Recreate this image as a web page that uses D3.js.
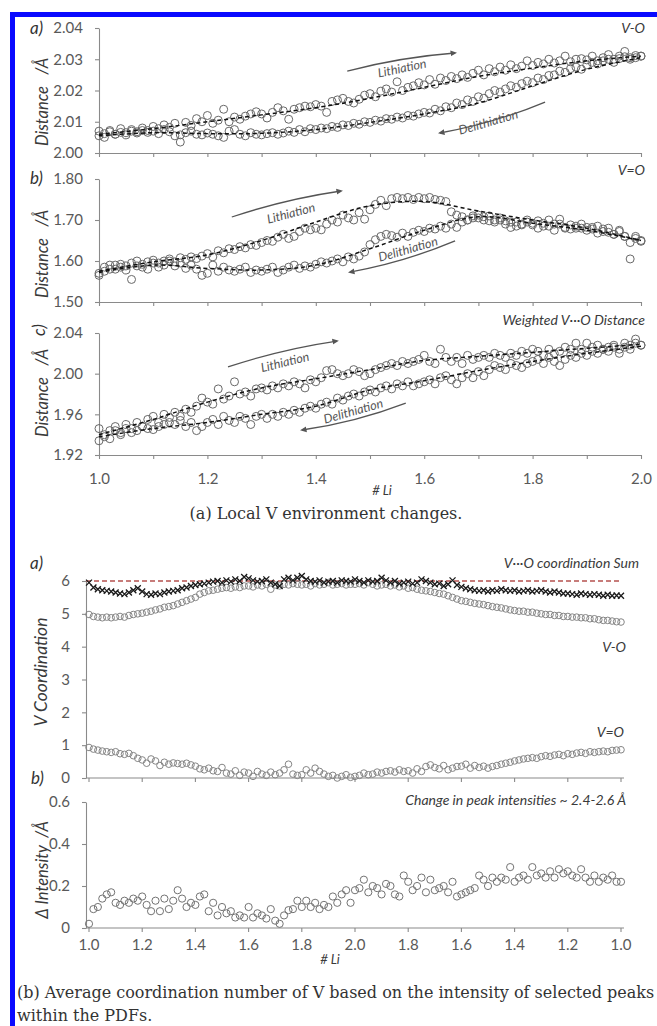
<!DOCTYPE html>
<html>
<head>
<meta charset="utf-8">
<script src="https://cdn.jsdelivr.net/npm/d3@7"></script>
<style>
  body { margin: 0; background: #fff; }
  svg { display: block; }
</style>
</head>
<body>
<svg id="fig" width="657" height="1026"></svg>
<script>
// ---------- Figure (a): V–O distances vs. # Li, x = 1.00 … 2.00 in 0.01 steps ----------
const voLi = [
  2.0070, 2.0050, 2.0072, 2.0060, 2.0078, 2.0065, 2.0075, 2.0068, 2.0080, 2.0072,
  2.0085, 2.0078, 2.0090, 2.0082, 2.0095, 2.0058, 2.0098, 2.0088, 2.0110, 2.0100,
  2.0120, 2.0095, 2.0105, 2.0140, 2.0100, 2.0115, 2.0108, 2.0118, 2.0125, 2.0132,
  2.0125, 2.0112, 2.0130, 2.0145, 2.0135, 2.0108, 2.0140, 2.0145, 2.0150, 2.0148,
  2.0155, 2.0150, 2.0130, 2.0165, 2.0170, 2.0175, 2.0165, 2.0160, 2.0172, 2.0185,
  2.0190, 2.0180, 2.0198, 2.0205, 2.0195, 2.0228, 2.0200, 2.0210, 2.0215, 2.0225,
  2.0218, 2.0235, 2.0220, 2.0240, 2.0232, 2.0245, 2.0238, 2.0250, 2.0242, 2.0255,
  2.0265, 2.0250, 2.0270, 2.0260, 2.0275, 2.0265, 2.0282, 2.0270, 2.0278, 2.0295,
  2.0280, 2.0290, 2.0285, 2.0300, 2.0288, 2.0295, 2.0310, 2.0292, 2.0300, 2.0302,
  2.0298, 2.0310, 2.0295, 2.0305, 2.0315, 2.0300, 2.0310, 2.0325, 2.0305, 2.0312,
  2.0310
];
const voDe = [
  2.0055, 2.0062, 2.0068, 2.0060, 2.0066, 2.0058, 2.0070, 2.0064, 2.0072, 2.0066,
  2.0070, 2.0062, 2.0075, 2.0068, 2.0055, 2.0035, 2.0065, 2.0070, 2.0060, 2.0058,
  2.0064, 2.0060, 2.0055, 2.0050, 2.0070, 2.0075, 2.0060, 2.0055, 2.0065, 2.0060,
  2.0058, 2.0062, 2.0065, 2.0060, 2.0064, 2.0070, 2.0066, 2.0075, 2.0068, 2.0078,
  2.0075, 2.0080, 2.0078, 2.0085, 2.0082, 2.0090, 2.0088, 2.0095, 2.0092, 2.0100,
  2.0098, 2.0105, 2.0102, 2.0110, 2.0108, 2.0115, 2.0112, 2.0120, 2.0118, 2.0125,
  2.0130, 2.0128, 2.0140, 2.0135, 2.0148, 2.0145, 2.0160, 2.0155, 2.0170, 2.0165,
  2.0180, 2.0175, 2.0190, 2.0200, 2.0195, 2.0205, 2.0215, 2.0210, 2.0222, 2.0230,
  2.0225, 2.0240, 2.0235, 2.0248, 2.0250, 2.0262, 2.0258, 2.0270, 2.0275, 2.0268,
  2.0282, 2.0290, 2.0285, 2.0295, 2.0300, 2.0290, 2.0302, 2.0308, 2.0300, 2.0305,
  2.0310
];
// trend lines, sampled at # Li = 1.0, 1.1, … 2.0
const voTrendLi = [2.0060, 2.0078, 2.0100, 2.0122, 2.0145, 2.0175, 2.0210, 2.0245, 2.0272, 2.0295, 2.0310];
const voTrendDe = [2.0055, 2.0065, 2.0062, 2.0063, 2.0075, 2.0098, 2.0125, 2.0160, 2.0215, 2.0268, 2.0305];

const vdoLi = [
  1.565, 1.585, 1.590, 1.580, 1.592, 1.588, 1.595, 1.600, 1.585, 1.598,
  1.602, 1.595, 1.600, 1.605, 1.598, 1.608, 1.604, 1.610, 1.606, 1.612,
  1.618, 1.610, 1.625, 1.620, 1.630, 1.628, 1.635, 1.632, 1.640, 1.638,
  1.645, 1.650, 1.648, 1.658, 1.665, 1.655, 1.660, 1.672, 1.680, 1.676,
  1.680, 1.676, 1.690, 1.700, 1.695, 1.712, 1.705, 1.700, 1.718, 1.702,
  1.725, 1.738, 1.748, 1.735, 1.752, 1.755, 1.752, 1.755, 1.750, 1.755,
  1.752, 1.755, 1.750, 1.748, 1.745, 1.720, 1.712, 1.708, 1.700, 1.710,
  1.705, 1.700, 1.698, 1.695, 1.700, 1.690, 1.682, 1.695, 1.688, 1.700,
  1.692, 1.698, 1.685, 1.700, 1.690, 1.702, 1.680, 1.688, 1.680, 1.690,
  1.682, 1.678, 1.685, 1.672, 1.680, 1.665, 1.675, 1.660, 1.645, 1.655,
  1.650
];
const vdoDe = [
  1.570, 1.575, 1.580, 1.590, 1.585, 1.578, 1.555, 1.588, 1.592, 1.580,
  1.595, 1.585, 1.590, 1.600, 1.588, 1.595, 1.582, 1.590, 1.580, 1.565,
  1.570, 1.590, 1.575, 1.585, 1.578, 1.575, 1.580, 1.585, 1.572, 1.578,
  1.575, 1.580, 1.585, 1.572, 1.578, 1.585, 1.590, 1.582, 1.588, 1.585,
  1.592, 1.598, 1.595, 1.600, 1.605, 1.598, 1.610, 1.605, 1.612, 1.622,
  1.640, 1.652, 1.660, 1.665, 1.662, 1.658, 1.668, 1.660, 1.670, 1.675,
  1.672, 1.680, 1.678, 1.685, 1.680, 1.690, 1.682, 1.695, 1.700, 1.705,
  1.712, 1.708, 1.710, 1.700, 1.705, 1.698, 1.695, 1.685, 1.690, 1.695,
  1.688, 1.680, 1.692, 1.685, 1.675, 1.690, 1.682, 1.678, 1.685, 1.680,
  1.675, 1.682, 1.668, 1.678, 1.670, 1.665, 1.672, 1.660, 1.605, 1.660,
  1.648
];
const vdoTrendLi = [1.575, 1.598, 1.615, 1.650, 1.695, 1.735, 1.745, 1.722, 1.700, 1.680, 1.650];
const vdoTrendDe = [1.572, 1.590, 1.582, 1.578, 1.590, 1.630, 1.675, 1.708, 1.692, 1.675, 1.650];

const wLi = [
  1.946, 1.938, 1.944, 1.948, 1.942, 1.950, 1.946, 1.952, 1.948, 1.955,
  1.958, 1.952, 1.960, 1.957, 1.962, 1.958, 1.965, 1.962, 1.968, 1.976,
  1.972, 1.970, 1.985, 1.975, 1.978, 1.992, 1.980, 1.982, 1.978, 1.985,
  1.986, 1.984, 1.988, 1.986, 1.990, 1.988, 1.992, 1.990, 1.986, 1.994,
  1.992, 1.996, 2.003, 2.004, 2.000, 1.998, 2.000, 2.004, 2.002, 1.998,
  2.000, 2.004, 2.006, 2.008, 2.010, 2.008, 2.012, 2.010, 2.012, 2.014,
  2.018, 2.012, 2.010, 2.024, 2.016, 2.012, 2.016, 2.010, 2.018, 2.014,
  2.016, 2.018, 2.016, 2.020, 2.018, 2.016, 2.020, 2.018, 2.022, 2.020,
  2.024, 2.022, 2.018, 2.024, 2.020, 2.022, 2.026, 2.024, 2.030, 2.024,
  2.030, 2.026, 2.028, 2.024, 2.026, 2.028, 2.024, 2.030, 2.028, 2.034,
  2.028
];
const wDe = [
  1.934, 1.940, 1.936, 1.944, 1.940, 1.946, 1.942, 1.944, 1.948, 1.946,
  1.945, 1.948, 1.950, 1.952, 1.950, 1.954, 1.948, 1.952, 1.944, 1.948,
  1.952, 1.955, 1.950, 1.958, 1.954, 1.952, 1.958, 1.956, 1.950, 1.958,
  1.960, 1.956, 1.960, 1.958, 1.962, 1.960, 1.964, 1.962, 1.966, 1.968,
  1.966, 1.970, 1.972, 1.970, 1.976, 1.974, 1.978, 1.980, 1.978, 1.982,
  1.984, 1.982, 1.986, 1.988, 1.985, 1.990, 1.988, 1.992, 1.988, 1.990,
  1.992, 1.994, 1.990, 1.996, 1.998, 1.994, 1.990, 1.996, 2.000, 1.996,
  2.002, 1.998, 2.004, 2.008, 2.006, 2.004, 2.010, 2.008, 2.006, 2.010,
  2.012, 2.014, 2.010, 2.016, 2.012, 2.008, 2.014, 2.018, 2.016, 2.020,
  2.018, 2.022, 2.020, 2.024, 2.022, 2.026, 2.020, 2.026, 2.024, 2.030,
  2.028
];
const wTrendLi = [1.940, 1.955, 1.972, 1.986, 1.995, 2.004, 2.013, 2.017, 2.021, 2.025, 2.029];
const wTrendDe = [1.938, 1.946, 1.952, 1.960, 1.968, 1.984, 1.993, 2.003, 2.012, 2.020, 2.027];

const topXTicks = [1.0, 1.1, 1.2, 1.3, 1.4, 1.5, 1.6, 1.7, 1.8, 1.9, 2.0];
const voTicks = [2.00, 2.01, 2.02, 2.03, 2.04];
const vdoTicks = [1.50, 1.60, 1.70, 1.80];
const wTicks = [1.92, 1.96, 2.00, 2.04];

// ---------- Figure (b): coordination over a full cycle 1.0 → 2.0 → 1.0 ----------
const cycleLabels = ["1.0", "1.2", "1.4", "1.6", "1.8", "2.0", "1.8", "1.6", "1.4", "1.2", "1.0"];
const cnSum = [
  5.95, 5.80, 5.75, 5.72, 5.70, 5.68, 5.65, 5.62, 5.60, 5.65, 5.72, 5.78,
  5.68, 5.60, 5.58, 5.62, 5.60, 5.65, 5.68, 5.70, 5.72, 5.78, 5.80, 5.85,
  5.88, 5.90, 5.92, 5.95, 5.98, 6.00, 5.95, 6.02, 5.98, 6.05, 6.00, 6.12,
  6.08, 6.02, 5.98, 6.00, 6.05, 5.95, 5.90, 5.85, 6.05, 6.10, 6.02, 6.10,
  6.15, 6.05, 6.00, 5.98, 6.02, 5.95, 5.98, 6.00, 5.95, 6.02, 6.00, 5.98,
  6.05, 6.00, 5.95, 6.02, 5.98, 6.00, 6.10, 6.02, 5.95, 6.00, 5.92, 5.95,
  5.98, 5.92, 5.95, 6.05, 6.00, 5.95, 5.90, 5.92, 5.85, 5.90, 6.02, 5.88,
  5.82, 5.78, 5.75, 5.72, 5.70, 5.72, 5.68, 5.72, 5.70, 5.75, 5.72, 5.70,
  5.72, 5.68, 5.70, 5.72, 5.68, 5.70, 5.72, 5.68, 5.65, 5.68, 5.65, 5.62,
  5.62, 5.60, 5.58, 5.62, 5.60, 5.58, 5.60, 5.58, 5.55, 5.58, 5.55, 5.56,
  5.55
];
const cnVO = [
  4.98, 4.92, 4.90, 4.88, 4.90, 4.88, 4.90, 4.92, 4.90, 4.95, 4.98, 5.00,
  5.02, 5.05, 5.08, 5.12, 5.15, 5.20, 5.22, 5.25, 5.30, 5.35, 5.40, 5.45,
  5.50, 5.60, 5.65, 5.70, 5.72, 5.75, 5.78, 5.80, 5.78, 5.82, 5.80, 5.85,
  5.85, 5.82, 5.88, 5.85, 5.90, 5.75, 5.88, 5.85, 5.90, 5.88, 5.92, 5.90,
  5.88, 5.90, 5.85, 5.92, 5.88, 5.90, 5.95, 5.88, 5.90, 5.92, 5.88, 5.90,
  5.90, 5.92, 5.88, 5.95, 5.90, 5.85, 5.88, 5.90, 5.85, 5.88, 5.82, 5.85,
  5.78, 5.80, 5.75, 5.72, 5.70, 5.68, 5.65, 5.62, 5.60, 5.55, 5.50, 5.45,
  5.40, 5.38, 5.35, 5.32, 5.30, 5.28, 5.25, 5.22, 5.20, 5.18, 5.15, 5.12,
  5.10, 5.08, 5.08, 5.05, 5.05, 5.02, 5.00, 4.98, 4.98, 4.95, 4.95, 4.92,
  4.92, 4.90, 4.90, 4.88, 4.88, 4.85, 4.85, 4.82, 4.80, 4.80, 4.78, 4.76,
  4.75
];
const cnVdO = [
  0.93, 0.88, 0.85, 0.82, 0.80, 0.78, 0.80, 0.74, 0.72, 0.75, 0.68, 0.60,
  0.55, 0.45, 0.58, 0.52, 0.38, 0.48, 0.42, 0.46, 0.44, 0.42, 0.45, 0.40,
  0.36, 0.28, 0.25, 0.30, 0.22, 0.20, 0.32, 0.15, 0.12, 0.22, 0.08, 0.18,
  0.15, 0.05, 0.20, 0.12, 0.08, 0.18, 0.10, 0.15, 0.25, 0.42, 0.12, 0.08,
  0.10, 0.25, 0.15, 0.30, 0.20, 0.12, 0.05, 0.08, 0.00, 0.05, 0.10, 0.02,
  0.05, 0.08, 0.15, 0.10, 0.12, 0.18, 0.15, 0.20, 0.22, 0.18, 0.25, 0.20,
  0.22, 0.15, 0.28, 0.20, 0.35, 0.40, 0.32, 0.28, 0.38, 0.25, 0.30, 0.35,
  0.36, 0.42, 0.30, 0.38, 0.32, 0.36, 0.30, 0.35, 0.38, 0.42, 0.45, 0.48,
  0.52, 0.55, 0.58, 0.60, 0.62, 0.60, 0.65, 0.68, 0.66, 0.70, 0.72, 0.68,
  0.74, 0.72, 0.76, 0.78, 0.75, 0.80, 0.78, 0.80, 0.82, 0.80, 0.84, 0.85,
  0.86
];
const dIntensity = [
  0.02, 0.09, 0.10, 0.14, 0.16, 0.17, 0.12, 0.11, 0.13, 0.12, 0.14, 0.13,
  0.15, 0.11, 0.08, 0.13, 0.08, 0.14, 0.09, 0.13, 0.18, 0.14, 0.10, 0.12,
  0.11, 0.15, 0.16, 0.08, 0.12, 0.06, 0.10, 0.07, 0.08, 0.05, 0.06, 0.05,
  0.10, 0.05, 0.07, 0.06, 0.045, 0.09, 0.035, 0.02, 0.06, 0.085, 0.09, 0.13,
  0.10, 0.13, 0.10, 0.12, 0.09, 0.11, 0.10, 0.15, 0.12, 0.16, 0.18, 0.12,
  0.18, 0.19, 0.23, 0.17, 0.20, 0.19, 0.16, 0.21, 0.20, 0.16, 0.15, 0.25,
  0.22, 0.18, 0.20, 0.24, 0.17, 0.23, 0.18, 0.19, 0.20, 0.17, 0.22, 0.15,
  0.16, 0.17, 0.18, 0.19, 0.25, 0.23, 0.20, 0.24, 0.22, 0.24, 0.23, 0.29,
  0.22, 0.24, 0.25, 0.23, 0.29, 0.25, 0.26, 0.24, 0.27, 0.24, 0.28, 0.26,
  0.27, 0.25, 0.24, 0.28, 0.24, 0.22, 0.25, 0.22, 0.24, 0.23, 0.25, 0.22,
  0.22
];
const cnTicks = [0, 1, 2, 3, 4, 5, 6];
const intTicks = [0, 0.2, 0.4, 0.6];
const cnIdeal = 6;

// ---------- drawing ----------
const INK = "#3a3a3a", LABEL = "#595959", AXIS = "#8a8a8a", MARK = "#686868";
const FONT = 'Lato, "Open Sans", sans-serif';
const SERIF = '"DejaVu Serif", serif';
const svg = d3.select("#fig");

const defs = svg.append("defs");
defs.append("marker")
  .attr("id", "head").attr("viewBox", "0 0 10 10")
  .attr("refX", 7).attr("refY", 5)
  .attr("markerWidth", 5).attr("markerHeight", 5)
  .attr("orient", "auto")
  .append("path").attr("d", "M0,0.5L10,5L0,9.5z").attr("fill", "#555");

// blue frame strips
svg.append("rect").attr("x", 10).attr("y", 12).attr("width", 647).attr("height", 5).attr("fill", "#0a0aff");
svg.append("rect").attr("x", 10).attr("y", 12).attr("width", 5).attr("height", 1014).attr("fill", "#0a0aff");

function styleAxis(g, size) {
  g.select(".domain").attr("stroke", AXIS).attr("stroke-width", 1.1);
  g.selectAll(".tick line").attr("stroke", AXIS).attr("stroke-width", 1.1);
  g.selectAll(".tick text").attr("fill", LABEL).attr("font-family", FONT).attr("font-size", size);
}

function italicText(x, y, str, opts = {}) {
  return svg.append("text")
    .attr("x", x).attr("y", y)
    .attr("font-family", FONT).attr("font-style", "italic")
    .attr("font-size", opts.size || 14)
    .attr("fill", opts.fill || INK)
    .attr("text-anchor", opts.anchor || "end")
    .text(str);
}

function verticalTitle(x, y, str, size) {
  svg.append("text")
    .attr("transform", `translate(${x},${y}) rotate(-90)`)
    .attr("text-anchor", "middle").attr("dominant-baseline", "central")
    .attr("font-family", FONT).attr("font-style", "italic").attr("font-size", size)
    .attr("fill", INK).attr("xml:space", "preserve").text(str);
}

function curvedArrow(g, x, y, a) {
  const x0 = x(a.from[0]), y0 = y(a.from[1]), x1 = x(a.to[0]), y1 = y(a.to[1]);
  const dx = x1 - x0, dy = y1 - y0, L = Math.hypot(dx, dy);
  const cx = (x0 + x1) / 2 + a.bend * dy / L, cy = (y0 + y1) / 2 - a.bend * dx / L;
  g.append("path")
    .attr("d", `M${x0},${y0}Q${cx},${cy} ${x1},${y1}`)
    .attr("fill", "none").attr("stroke", "#555").attr("stroke-width", 1.3)
    .attr("marker-end", "url(#head)");
}

function rotatedNote(g, x, y, n) {
  g.append("text")
    .attr("transform", `translate(${x(n.at[0])},${y(n.at[1])}) rotate(${n.angle})`)
    .attr("text-anchor", "middle").attr("dominant-baseline", "central")
    .attr("font-family", FONT).attr("font-style", "italic").attr("font-size", 12.5)
    .attr("fill", "#555").text(n.text);
}

// ----- figure (a) -----
const xTop = d3.scaleLinear().domain([1, 2]).range([99, 641]);

const topPanels = [
  { li: voLi, de: voDe, tLi: voTrendLi, tDe: voTrendDe,
    domain: [2.00, 2.04], range: [153, 28], ticks: voTicks, fmt: ".2f",
    name: "V-O", nameY: 33, titleY: 102, xLabels: false,
    liNote: { at: [1.559, 2.0272], angle: -12, text: "Lithiation" },
    liArrow: { from: [1.458, 2.0262], to: [1.657, 2.0320], bend: 5 },
    deNote: { at: [1.718, 2.0099], angle: -16, text: "Delithiation" },
    deArrow: { from: [1.823, 2.0163], to: [1.629, 2.0064], bend: 6 } },
  { li: vdoLi, de: vdoDe, tLi: vdoTrendLi, tDe: vdoTrendDe,
    domain: [1.50, 1.80], range: [302, 179], ticks: vdoTicks, fmt: ".2f",
    name: "V=O", nameY: 175, titleY: 254, xLabels: false,
    liNote: { at: [1.354, 1.717], angle: -15, text: "Lithiation" },
    liArrow: { from: [1.245, 1.7073], to: [1.4465, 1.7707], bend: 5 },
    deNote: { at: [1.570, 1.629], angle: -16, text: "Delithiation" },
    deArrow: { from: [1.657, 1.649], to: [1.463, 1.573], bend: 6 } },
  { li: wLi, de: wDe, tLi: wTrendLi, tDe: wTrendDe,
    domain: [1.92, 2.04], range: [455, 333], ticks: wTicks, fmt: ".2f",
    name: "Weighted V···O Distance", nameY: 325, titleY: 393, xLabels: true,
    liNote: { at: [1.343, 2.0115], angle: -14, text: "Lithiation" },
    liArrow: { from: [1.238, 2.0066], to: [1.439, 2.0321], bend: 5 },
    deNote: { at: [1.469, 1.9633], angle: -16, text: "Delithiation" },
    deArrow: { from: [1.566, 1.9711], to: [1.3745, 1.9446], bend: 6 } }
];

topPanels.forEach(p => {
  const y = d3.scaleLinear().domain(p.domain).range(p.range);
  const g = svg.append("g");

  const ya = g.append("g").attr("transform", `translate(${xTop(1)},0)`)
    .call(d3.axisLeft(y).tickValues(p.ticks).tickFormat(d3.format(p.fmt))
      .tickSize(4).tickPadding(12).tickSizeOuter(0));
  styleAxis(ya, 15);

  const xa = g.append("g").attr("transform", `translate(0,${p.range[0]})`)
    .call(d3.axisBottom(xTop).tickValues(topXTicks)
      .tickFormat((d, i) => (p.xLabels && i % 2 === 0) ? d.toFixed(1) : "")
      .tickSize(4).tickPadding(14).tickSizeOuter(0));
  styleAxis(xa, 15);

  [p.li, p.de].forEach(series => {
    const n = series.length - 1;
    g.append("g").selectAll("circle").data(series).join("circle")
      .attr("cx", (d, i) => xTop(1 + i / n))
      .attr("cy", d => y(d))
      .attr("r", 4)
      .attr("fill", "none").attr("stroke", MARK).attr("stroke-width", 1);
  });

  [p.tLi, p.tDe].forEach(trend => {
    const n = trend.length - 1;
    g.append("path").datum(trend)
      .attr("d", d3.line().x((d, i) => xTop(1 + i / n)).y(d => y(d)).curve(d3.curveCatmullRom))
      .attr("fill", "none").attr("stroke", "#111").attr("stroke-width", 1.5)
      .attr("stroke-dasharray", "4,3");
  });

  curvedArrow(g, xTop, y, p.liArrow);
  curvedArrow(g, xTop, y, p.deArrow);
  rotatedNote(g, xTop, y, p.liNote);
  rotatedNote(g, xTop, y, p.deNote);

  italicText(645, p.nameY, p.name, { size: 14 });
  verticalTitle(42, p.titleY, "Distance   /Å", 16.5);
});

italicText(30, 34, "a)", { size: 17, anchor: "start", fill: "#333" });
italicText(30, 184, "b)", { size: 17, anchor: "start", fill: "#333" });
svg.append("text").attr("transform", "translate(45,330) rotate(-90)")
  .attr("text-anchor", "middle").attr("font-family", FONT).attr("font-style", "italic")
  .attr("font-size", 17).attr("fill", "#333").text("c)");

italicText(382, 495, "# Li", { size: 13, anchor: "middle" });

svg.append("text").attr("x", 326).attr("y", 519)
  .attr("text-anchor", "middle").attr("font-family", SERIF)
  .attr("font-size", 16).attr("fill", "#333")
  .text("(a) Local V environment changes.");

// ----- figure (b) -----
const xCyc = d3.scaleLinear().domain([0, cycleLabels.length - 1]).range([89, 621]);
const yCN = d3.scaleLinear().domain([0, 6]).range([778, 581]);
const yInt = d3.scaleLinear().domain([0, 0.6]).range([928, 802]);
const axisX0 = 86, axisX1 = 624;
const cycPos = (i, n) => (cycleLabels.length - 1) * i / n;

function cycleAxis(yPos, withLabels) {
  const g = svg.append("g").attr("transform", `translate(0,${yPos})`);
  g.append("line").attr("x1", axisX0).attr("x2", axisX1).attr("stroke", AXIS).attr("stroke-width", 1.1);
  const ticks = g.selectAll("g").data(cycleLabels).join("g")
    .attr("transform", (d, i) => `translate(${xCyc(i)},0)`);
  ticks.append("line").attr("y2", 4).attr("stroke", AXIS).attr("stroke-width", 1.1);
  if (withLabels) {
    ticks.append("text").attr("y", 22).attr("text-anchor", "middle")
      .attr("font-family", FONT).attr("font-size", 15).attr("fill", LABEL).text(d => d);
  }
}

const yaCN = svg.append("g").attr("transform", `translate(${axisX0},0)`)
  .call(d3.axisLeft(yCN).tickValues(cnTicks).tickFormat(d3.format("d"))
    .tickSize(4).tickPadding(12).tickSizeOuter(0));
styleAxis(yaCN, 15);
cycleAxis(yCN(0), false);

svg.append("line")
  .attr("x1", axisX0).attr("x2", axisX1 - 2)
  .attr("y1", yCN(cnIdeal)).attr("y2", yCN(cnIdeal))
  .attr("stroke", "#b5524f").attr("stroke-width", 1.3).attr("stroke-dasharray", "5,3");

[cnVO, cnVdO].forEach(series => {
  const n = series.length - 1;
  svg.append("g").selectAll("circle").data(series).join("circle")
    .attr("cx", (d, i) => xCyc(cycPos(i, n)))
    .attr("cy", d => yCN(d))
    .attr("r", 3.3)
    .attr("fill", "none").attr("stroke", "#858585").attr("stroke-width", 1);
});
{
  const n = cnSum.length - 1;
  svg.append("g").selectAll("path").data(cnSum).join("path")
    .attr("transform", (d, i) => `translate(${xCyc(cycPos(i, n))},${yCN(d)})`)
    .attr("d", "M-3,-3L3,3M-3,3L3,-3")
    .attr("stroke", "#1a1a1a").attr("stroke-width", 1.3).attr("fill", "none");
}

italicText(639, 568, "V···O coordination Sum", { size: 14 });
italicText(626, 652, "V-O", { size: 14 });
italicText(624, 737, "V=O", { size: 14 });
italicText(626, 805, "Change in peak intensities ~ 2.4-2.6 Å", { size: 14 });

verticalTitle(40, 672, "V Coordination", 17.5);

const yaInt = svg.append("g").attr("transform", `translate(${axisX0},0)`)
  .call(d3.axisLeft(yInt).tickValues(intTicks).tickFormat(d => d === 0 ? "0" : d.toFixed(1))
    .tickSize(4).tickPadding(12).tickSizeOuter(0));
styleAxis(yaInt, 15);
cycleAxis(yInt(0), true);

{
  const n = dIntensity.length - 1;
  svg.append("g").selectAll("circle").data(dIntensity).join("circle")
    .attr("cx", (d, i) => xCyc(cycPos(i, n)))
    .attr("cy", d => yInt(d))
    .attr("r", 3.6)
    .attr("fill", "none").attr("stroke", "#737373").attr("stroke-width", 1);
}

verticalTitle(42, 870, "Δ Intensity  /Å", 16.5);

italicText(30, 569, "a)", { size: 17, anchor: "start", fill: "#333" });
italicText(31, 784, "b)", { size: 17, anchor: "start", fill: "#333" });
italicText(330, 964, "# Li", { size: 13, anchor: "middle" });

svg.append("text").attr("x", 17).attr("y", 998)
  .attr("font-family", SERIF).attr("font-size", 16).attr("fill", "#333")
  .text("(b) Average coordination number of V based on the intensity of selected peaks");
svg.append("text").attr("x", 17).attr("y", 1021)
  .attr("font-family", SERIF).attr("font-size", 16).attr("fill", "#333")
  .text("within the PDFs.");
</script>
</body>
</html>
